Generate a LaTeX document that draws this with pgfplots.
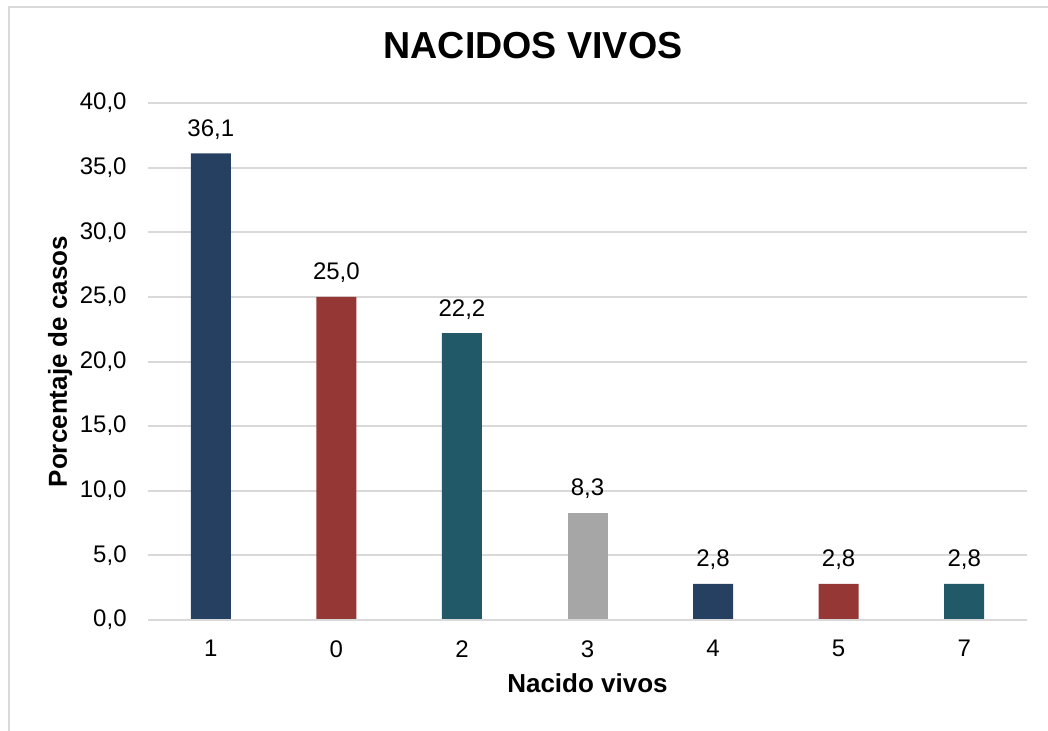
\documentclass[border=0pt]{standalone}
\usepackage{fontspec}
\setmainfont{Liberation Sans}
\usepackage{pgfplots}
\pgfplotsset{compat=1.18}
\definecolor{cnavy}{HTML}{264061}
\definecolor{cred}{HTML}{953735}
\definecolor{cteal}{HTML}{215968}
\definecolor{cgray}{HTML}{A6A6A6}
\definecolor{gridc}{HTML}{D9D9D9}
\begin{document}
\begin{tikzpicture}
\useasboundingbox (0,0) rectangle (524pt,365pt);
\draw[gridc, line width=1pt] (4.25pt,-10pt) -- (4.25pt,361.5pt) -- (540pt,361.5pt);
\begin{axis}[
  at={(74pt,55pt)}, anchor=south west,
  scale only axis, width=439.5pt, height=258.5pt,
  xmin=-0.5, xmax=6.5, ymin=0, ymax=40,
  ytick={0,5,...,40},
  xtick={0,...,6}, xticklabels={1,0,2,3,4,5,7},
  axis line style={draw=none},
  major tick length=0pt,
  ymajorgrids, grid style={gridc, line width=1pt},
  /pgf/number format/.cd, fixed, fixed zerofill, precision=1, use comma, assume math mode=true,
  /pgfplots/.cd,
  tick label style={font=\fontsize{12}{14}\selectfont},
  yticklabel style={anchor=east, inner sep=0pt, xshift=-10.5pt},
  xticklabel style={anchor=north, inner sep=0pt, yshift=-10pt},
  ybar, bar width=20pt, bar shift=0pt,
  nodes near coords,
  every node near coord/.append style={font=\fontsize{12}{14}\selectfont, anchor=base, inner sep=0pt, yshift=8.5pt, text=black},
  title={NACIDOS VIVOS},
  title style={font=\fontsize{18.8}{22}\selectfont\bfseries, at={(axis description cs:0.438,1.062)}, anchor=base},
  xlabel={Nacido vivos},
  xlabel style={font=\fontsize{13}{15}\selectfont\bfseries, at={(axis description cs:0.5,-0.141)}, anchor=base},
  ylabel={Porcentaje de casos},
  ylabel style={font=\fontsize{13}{15}\selectfont\bfseries, at={(axis description cs:-0.100,0.5)}, anchor=center, rotate=0},
]
\addplot[fill=cnavy, draw=none] coordinates {(0,36.1) (4,2.8)};
\addplot[fill=cred, draw=none] coordinates {(1,25.0) (5,2.8)};
\addplot[fill=cteal, draw=none] coordinates {(2,22.2) (6,2.8)};
\addplot[fill=cgray, draw=none] coordinates {(3,8.3)};
\draw[gridc, line width=1.2pt] (axis cs:-0.5,0) -- (axis cs:6.5,0);
\end{axis}
\end{tikzpicture}
\end{document}
